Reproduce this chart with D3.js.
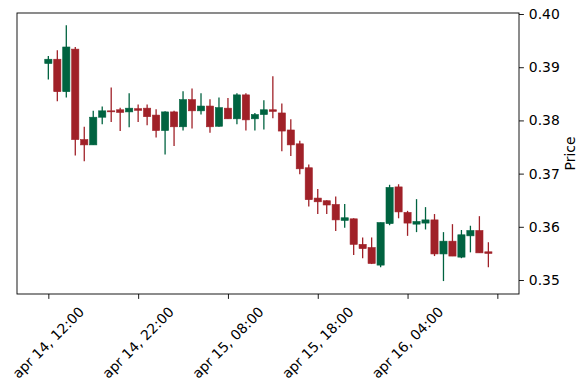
<!DOCTYPE html>
<html>
<head>
<meta charset="utf-8">
<script src="https://cdn.jsdelivr.net/npm/d3@7"></script>
<style>
  html, body { margin: 0; padding: 0; background: #fff; }
  svg { display: block; font-family: "DejaVu Sans", sans-serif; }
</style>
</head>
<body>
<svg id="chart" width="587" height="390"></svg>
<script>
// ---- data ----
const times = [
  "apr 14, 12:00","apr 14, 13:00","apr 14, 14:00","apr 14, 15:00","apr 14, 16:00",
  "apr 14, 17:00","apr 14, 18:00","apr 14, 19:00","apr 14, 20:00","apr 14, 21:00",
  "apr 14, 22:00","apr 14, 23:00","apr 15, 00:00","apr 15, 01:00","apr 15, 02:00",
  "apr 15, 03:00","apr 15, 04:00","apr 15, 05:00","apr 15, 06:00","apr 15, 07:00",
  "apr 15, 08:00","apr 15, 09:00","apr 15, 10:00","apr 15, 11:00","apr 15, 12:00",
  "apr 15, 13:00","apr 15, 14:00","apr 15, 15:00","apr 15, 16:00","apr 15, 17:00",
  "apr 15, 18:00","apr 15, 19:00","apr 15, 20:00","apr 15, 21:00","apr 15, 22:00",
  "apr 15, 23:00","apr 16, 00:00","apr 16, 01:00","apr 16, 02:00","apr 16, 03:00",
  "apr 16, 04:00","apr 16, 05:00","apr 16, 06:00","apr 16, 07:00","apr 16, 08:00",
  "apr 16, 09:00","apr 16, 10:00","apr 16, 11:00","apr 16, 12:00","apr 16, 13:00"
];
const open = [
  0.3907,0.3915,0.3854,0.3934,0.3764,0.3754,0.3806,0.3818,0.3820,0.3816,
  0.3822,0.3823,0.3810,0.3781,0.3816,0.3788,0.3839,0.3818,0.3827,0.3789,
  0.3823,0.3803,0.3848,0.3803,0.3811,0.3820,0.3814,0.3782,0.3756,0.3711,
  0.3654,0.3649,0.3642,0.3612,0.3615,0.3567,0.3561,0.3528,0.3606,0.3675,
  0.3627,0.3605,0.3607,0.3613,0.3549,0.3573,0.3543,0.3583,0.3593,0.3553
];
const high = [
  0.3921,0.3932,0.3979,0.3938,0.3788,0.3818,0.3826,0.3862,0.3824,0.3851,
  0.3830,0.3830,0.3821,0.3817,0.3818,0.3855,0.3860,0.3851,0.3840,0.3843,
  0.3842,0.3851,0.3851,0.3814,0.3838,0.3883,0.3832,0.3802,0.3762,0.3717,
  0.3671,0.3650,0.3657,0.3643,0.3616,0.3580,0.3580,0.3608,0.3679,0.3680,
  0.3630,0.3652,0.3637,0.3624,0.3590,0.3605,0.3594,0.3602,0.3620,0.3571
];
const low = [
  0.3877,0.3836,0.3843,0.3734,0.3723,0.3754,0.3793,0.3797,0.3780,0.3787,
  0.3797,0.3791,0.3768,0.3736,0.3752,0.3781,0.3785,0.3811,0.3777,0.3788,
  0.3803,0.3793,0.3781,0.3781,0.3783,0.3804,0.3742,0.3733,0.3699,0.3638,
  0.3624,0.3624,0.3592,0.3598,0.3547,0.3541,0.3530,0.3524,0.3603,0.3616,
  0.3583,0.3590,0.3595,0.3545,0.3498,0.3545,0.3541,0.3552,0.3551,0.3524
];
const close = [
  0.3915,0.3854,0.3938,0.3764,0.3754,0.3806,0.3818,0.3817,0.3815,0.3823,
  0.3819,0.3807,0.3781,0.3816,0.3788,0.3839,0.3818,0.3827,0.3788,0.3824,
  0.3803,0.3848,0.3801,0.3811,0.3820,0.3817,0.3780,0.3754,0.3709,0.3651,
  0.3647,0.3641,0.3613,0.3617,0.3567,0.3559,0.3531,0.3608,0.3674,0.3628,
  0.3607,0.3610,0.3613,0.3549,0.3573,0.3545,0.3585,0.3593,0.3551,0.3550
];
const xTickIndex = [0, 10, 20, 30, 40, 50];
const xTickLabels = ["apr 14, 12:00","apr 14, 22:00","apr 15, 08:00","apr 15, 18:00","apr 16, 04:00",""];
const yTicks = [0.35, 0.36, 0.37, 0.38, 0.39, 0.40];
const yLabel = "Price";

// ---- layout ----
const upColor = "#006340", downColor = "#A02128";
const L = 17, R = 519, T = 13, B = 294;
const fontSize = 13.9;

const svg = d3.select("#chart");
svg.append("rect").attr("width", 587).attr("height", 390).attr("fill", "#fff");

const x = d3.scaleLinear().domain([-3.49, 52.41]).range([L, R]);
const y = d3.scaleLinear().domain([0.34737, 0.40019]).range([B, T]);

const data = times.map((t, i) => ({ i, t, o: open[i], h: high[i], l: low[i], c: close[i] }));
const step = x(1) - x(0);
const bw = step * 0.8;

const g = svg.append("g");
// wicks
g.selectAll("line.wick").data(data).join("line")
  .attr("class", "wick")
  .attr("x1", d => x(d.i)).attr("x2", d => x(d.i))
  .attr("y1", d => y(d.h)).attr("y2", d => y(d.l))
  .attr("stroke", d => d.c >= d.o ? upColor : downColor)
  .attr("stroke-width", 1.3);
// bodies
g.selectAll("rect.body").data(data).join("rect")
  .attr("class", "body")
  .attr("x", d => x(d.i) - bw / 2)
  .attr("width", bw)
  .attr("y", d => y(Math.max(d.o, d.c)))
  .attr("height", d => Math.max(1, Math.abs(y(d.o) - y(d.c))))
  .attr("fill", d => d.c >= d.o ? upColor : downColor)
  .attr("stroke", d => d.c >= d.o ? upColor : downColor)
  .attr("stroke-width", 0.6);

// frame
svg.append("rect")
  .attr("x", L).attr("y", T).attr("width", R - L).attr("height", B - T)
  .attr("fill", "none").attr("stroke", "#000").attr("stroke-width", 0.9);

// y axis on right
const yAxis = d3.axisRight(y).tickValues(yTicks).tickFormat(d3.format(".2f"))
  .tickSize(4.9).tickPadding(4.9);
const ya = svg.append("g").attr("transform", `translate(${R},0)`).call(yAxis);
ya.select(".domain").remove();
ya.selectAll("line").attr("stroke", "#000").attr("stroke-width", 0.9);
ya.selectAll("text").attr("font-size", fontSize).attr("font-family", "DejaVu Sans").attr("fill", "#000");

// x axis
const xAxis = d3.axisBottom(x).tickValues(xTickIndex).tickFormat((d, k) => xTickLabels[k])
  .tickSize(4.9).tickPadding(4.9);
const xa = svg.append("g").attr("transform", `translate(0,${B})`).call(xAxis);
xa.select(".domain").remove();
xa.selectAll("line").attr("stroke", "#000").attr("stroke-width", 0.9);
xa.selectAll("text").remove();

// rotated x tick labels, centered on tick like matplotlib (ha=center, rotation=45)
const labelTop = B + 9.7;
xTickIndex.forEach((v, k) => {
  const txt = xTickLabels[k];
  if (!txt) return;
  const t = svg.append("text")
    .attr("font-size", fontSize).attr("font-family", "DejaVu Sans").attr("fill", "#000")
    .attr("text-anchor", "middle").attr("dy", "0.35em")
    .text(txt);
  const w = t.node().getComputedTextLength();
  const h = fontSize * 1.16;
  const side = (w + h) * Math.SQRT1_2;
  t.attr("transform", `translate(${x(v)},${labelTop + side / 2}) rotate(-45)`);
});

// y label
svg.append("text")
  .attr("font-size", fontSize).attr("font-family", "DejaVu Sans").attr("fill", "#000")
  .attr("text-anchor", "middle").attr("dy", "0.35em")
  .attr("transform", `translate(570,${(T + B) / 2}) rotate(-90)`)
  .text(yLabel);
</script>
</body>
</html>
